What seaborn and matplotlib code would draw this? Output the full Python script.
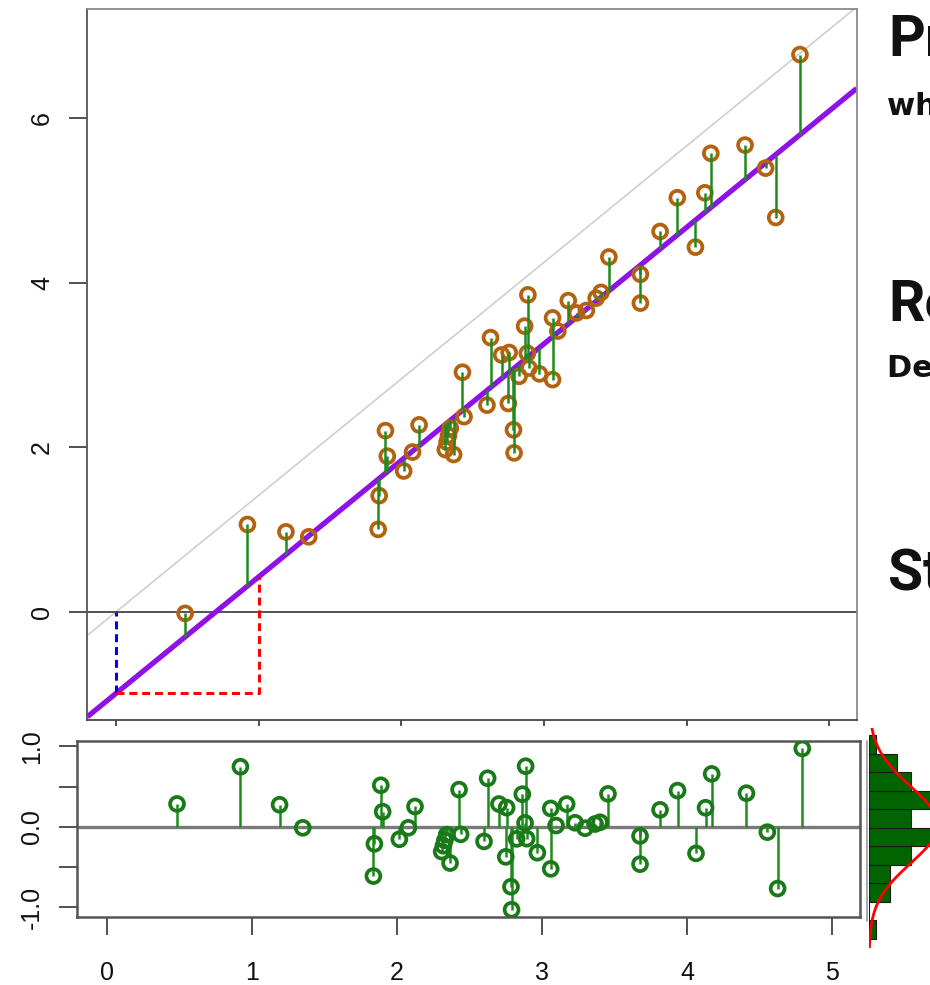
import numpy as np
import pandas as pd
import matplotlib
matplotlib.use("Agg")
import matplotlib.pyplot as plt
import seaborn as sns
from matplotlib.lines import Line2D

# ---------------- data ----------------
x_vals = [0.483, 0.92, 1.19, 1.35, 1.837, 1.844, 1.888, 1.901, 2.016, 2.078,
          2.124, 2.308, 2.32, 2.33, 2.343, 2.366, 2.428, 2.439, 2.60, 2.625,
          2.703, 2.75, 2.756, 2.786, 2.79, 2.825, 2.864, 2.883, 2.887, 2.894,
          2.968, 3.06, 3.06, 3.097, 3.17, 3.228, 3.297, 3.366, 3.40, 3.455,
          3.676, 3.676, 3.814, 3.935, 4.062, 4.128, 4.17, 4.41, 4.554, 4.625,
          4.795]
y_vals = [-0.02, 1.06, 0.97, 0.91, 1.00, 1.41, 2.20, 1.89, 1.71, 1.94,
          2.27, 1.97, 2.06, 2.14, 2.23, 1.91, 2.91, 2.37, 2.51, 3.33,
          3.12, 2.53, 3.15, 2.21, 1.93, 2.86, 3.47, 3.14, 3.85, 2.96,
          2.89, 3.57, 2.82, 3.41, 3.78, 3.63, 3.66, 3.81, 3.88, 4.31,
          4.10, 3.75, 4.62, 5.03, 4.43, 5.09, 5.57, 5.67, 5.39, 4.79,
          6.77]
intercept = -0.99
slope = 1.415

x_ticks = [0, 1, 2, 3, 4, 5]
top_y_ticks = [0, 2, 4, 6]
res_y_ticks = [-1.0, -0.5, 0.0, 0.5, 1.0]
res_y_labels = ["-1.0", "", "0.0", "", "1.0"]
hist_edges = [-1.2, -1.0, -0.8, -0.6, -0.4, -0.2, 0.0, 0.2, 0.4, 0.6, 0.8, 1.0]

side_titles = ["Prediction", "Residuals", "Standardized residuals"]
side_subtitles = ["where the fitted line lies", "Deviation from the fitted line"]

# ---------------- styling ----------------
sns.set_theme(style="white")
plt.rcParams["font.family"] = ["Liberation Sans", "DejaVu Sans"]

BROWN = "#B3630F"
STEM = "#1F8B1F"
GREEN = "#1A7A1A"
PURPLE = "#9010E8"

df = pd.DataFrame({"x": x_vals, "y": y_vals})
df["fit"] = intercept + slope * df["x"]
df["resid"] = df["y"] - df["fit"]

W, H = 930, 985
fig = plt.figure(figsize=(W / 100, H / 100), dpi=100)
fig.patch.set_facecolor("white")


def box(l, t, r, b):
    return [l / W, 1 - b / H, (r - l) / W, (b - t) / H]


# ---------------- top panel ----------------
ax = fig.add_axes(box(87.3, 9.3, 856.7, 720))
ax.set_xlim(-0.203, 5.193)
ax.set_ylim(-1.316, 7.32)
ax.axline((0, 0), slope=slope, color="#cfcfcf", lw=1.2, zorder=1)
ax.axhline(0, color="#444444", lw=1.3, zorder=1)
ax.axline((0, intercept), slope=slope, color=PURPLE, lw=3.8, zorder=2,
          solid_capstyle="butt")
ax.plot([0, 0], [intercept, 0], color="blue", lw=2.2, dashes=(2.6, 1.6), zorder=3)
ax.plot([0, 1, 1], [intercept, intercept, intercept + slope], color="red",
        lw=2.2, dashes=(2.6, 1.6), zorder=3)
sns.scatterplot(data=df, x="x", y="y", ax=ax, s=100, marker="o",
                facecolor="none", edgecolor=BROWN, linewidth=2.7, zorder=4,
                legend=False)
ax.vlines(df["x"], df["fit"], df["y"], color=STEM, lw=1.8, zorder=5)

ax.set_xlabel("")
ax.set_ylabel("")
ax.set_xticks(x_ticks)
ax.set_xticklabels([])
ax.set_yticks(top_y_ticks)
ax.set_yticklabels([str(v) for v in top_y_ticks])
ax.tick_params(axis="x", bottom=True, direction="out", length=4, width=1.2,
               color="#333333")
ax.tick_params(axis="y", left=True, direction="out", length=13, width=1.2,
               color="#333333", labelsize=18, pad=11, labelcolor="#111111")
for lab in ax.get_yticklabels():
    lab.set_rotation(90)
    lab.set_va("center")
for sp in ax.spines.values():
    sp.set_color("#8a8a8a")
    sp.set_linewidth(1.3)
ax.spines["bottom"].set_color("#444444")
ax.spines["left"].set_color("#555555")

# ---------------- residual panel ----------------
ax2 = fig.add_axes(box(77, 741, 860, 917))
ax2.set_xlim(-0.207, 5.193)
ax2.set_ylim(-1.118, 1.068)
ax2.axhline(0, color="#7a7a7a", lw=2.4, zorder=1)
ax2.vlines(df["x"], 0, df["resid"], color=STEM, lw=1.8, zorder=2)
sns.scatterplot(data=df, x="x", y="resid", ax=ax2, s=100, marker="o",
                facecolor="none", edgecolor=GREEN, linewidth=2.7, zorder=3,
                legend=False)
ax2.set_xlabel("")
ax2.set_ylabel("")
ax2.set_xticks(x_ticks)
ax2.set_xticklabels([str(v) for v in x_ticks])
ax2.set_yticks(res_y_ticks)
ax2.set_yticklabels(res_y_labels)
ax2.tick_params(axis="x", bottom=True, direction="out", length=13, width=1.2,
                color="#333333", labelsize=18, pad=19, labelcolor="#111111")
ax2.tick_params(axis="y", left=True, direction="out", length=13, width=1.2,
                color="#333333", labelsize=18, pad=10.5, labelcolor="#111111")
for lab in ax2.get_yticklabels():
    lab.set_rotation(90)
    lab.set_va("center")
for sp in ax2.spines.values():
    sp.set_color("#555555")
    sp.set_linewidth(1.8)

# ---------------- side histogram ----------------
axh = fig.add_axes(box(869, 728, 960, 948))
sns.histplot(y=df["resid"], bins=hist_edges, ax=axh, color="#006400",
             edgecolor="#1a1a1a", linewidth=0.8, alpha=1, zorder=1)
axh.set_xlim(0, 13)
axh.set_ylim(-1.297, 1.076)
mu = df["resid"].mean()
sd = df["resid"].std()
yy = np.linspace(-1.297, 1.076, 300)
bw = hist_edges[1] - hist_edges[0]
dens = len(df) * bw * np.exp(-0.5 * ((yy - mu) / sd) ** 2) / (sd * np.sqrt(2 * np.pi))
axh.plot(dens, yy, color="red", lw=2.0, zorder=3)
axh.axis("off")
fig.add_artist(Line2D([866.5 / W] * 2, [1 - 741 / H, 1 - 921 / H],
                      color="#9a9a9a", lw=1.2))

# ---------------- side text (cut off by the figure edge, as in the source) ----
big = dict(fontsize=41, fontweight="bold",
           family=["Liberation Sans Narrow", "Roboto", "DejaVu Sans"],
           ha="left", va="baseline", color="#111111")
small = dict(fontsize=22, fontweight="bold", family=["DejaVu Sans"],
             ha="left", va="baseline", color="#111111")
fig.text(888 / W, 1 - 56 / H, side_titles[0], **big)
fig.text(887 / W, 1 - 115 / H, side_subtitles[0], **small)
fig.text(888 / W, 1 - 321 / H, side_titles[1], **big)
fig.text(887 / W, 1 - 377 / H, side_subtitles[1], **small)
fig.text(888 / W, 1 - 590 / H, side_titles[2], **big)

fig.savefig("out.png", dpi=100)
